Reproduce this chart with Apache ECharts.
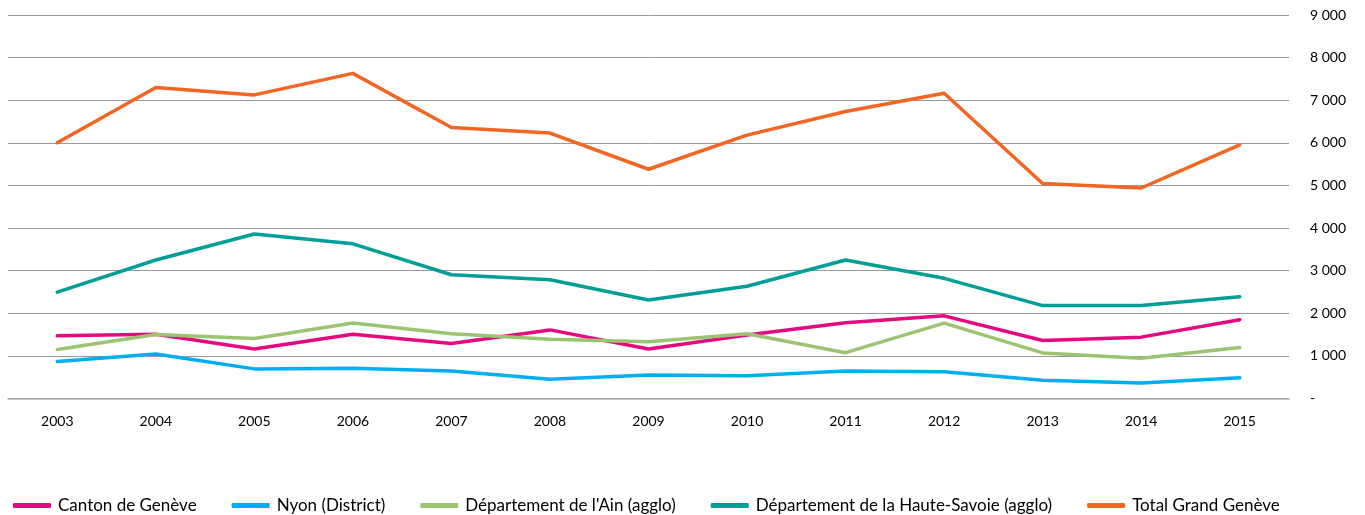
<!DOCTYPE html>
<html>
<head>
<meta charset="utf-8">
<script src="https://cdn.jsdelivr.net/npm/echarts@6/dist/echarts.min.js"></script>
<style>
  html, body { margin: 0; padding: 0; background: #fff; }
  #chart { width: 1365px; height: 515px; }
</style>
</head>
<body>
<div id="chart"></div>
<script>
  var years = ['2003', '2004', '2005', '2006', '2007', '2008', '2009', '2010', '2011', '2012', '2013', '2014', '2015'];
  var canton = [1470, 1510, 1160, 1510, 1290, 1610, 1160, 1490, 1780, 1940, 1360, 1440, 1850];
  var nyon = [870, 1045, 695, 710, 645, 450, 550, 535, 645, 625, 430, 365, 485];
  var ain = [1150, 1500, 1410, 1770, 1520, 1390, 1330, 1520, 1075, 1770, 1070, 945, 1195];
  var hauteSavoie = [2495, 3250, 3860, 3630, 2905, 2785, 2310, 2635, 3250, 2820, 2180, 2180, 2390];
  var total = [6000, 7300, 7125, 7630, 6360, 6230, 5380, 6180, 6735, 7165, 5045, 4940, 5950];

  var names = ['Canton de Genève', 'Nyon (District)', "Département de l'Ain (agglo)", 'Département de la Haute-Savoie (agglo)', 'Total Grand Genève'];
  var colors = ['#E5097F', '#00AEEF', '#9BC472', '#009E97', '#F26522'];
  var values = [canton, nyon, ain, hauteSavoie, total];

  var chart = echarts.init(document.getElementById('chart'));

  var series = names.map(function (n, i) {
    return {
      name: n,
      type: 'line',
      data: values[i],
      symbol: 'none',
      lineStyle: { width: 3.5, color: colors[i], cap: 'round', join: 'round' },
      itemStyle: { color: colors[i] }
    };
  });

  chart.setOption({
    animation: false,
    textStyle: { fontFamily: 'Lato, sans-serif' },
    grid: { left: 8, right: 76, top: 15, bottom: 116.5, containLabel: false },
    legend: {
      left: 8,
      top: 492,
      itemWidth: 38,
      itemHeight: 5,
      itemGap: 35,
      icon: 'roundRect',
      textStyle: { fontSize: 17, color: '#000', fontFamily: 'Lato, sans-serif', padding: [0, 0, 0, 2] },
      data: names
    },
    xAxis: {
      type: 'category',
      data: years,
      boundaryGap: true,
      axisTick: { show: false },
      axisLine: { show: true, lineStyle: { color: '#B0B0B0', width: 1.5 } },
      axisLabel: { color: '#000', fontSize: 14, margin: 16 }
    },
    yAxis: {
      type: 'value',
      position: 'right',
      min: 0,
      max: 9000,
      interval: 1000,
      axisLine: { show: false },
      axisTick: { show: false },
      axisLabel: {
        color: '#000',
        fontSize: 14,
        margin: 21,
        formatter: function (v) {
          if (v === 0) return '-';
          return String(v).replace(/\B(?=(\d{3})+(?!\d))/g, ' ');
        }
      },
      splitLine: { lineStyle: { color: '#999999', width: 1 } }
    },
    series: series
  });
</script>
</body>
</html>
